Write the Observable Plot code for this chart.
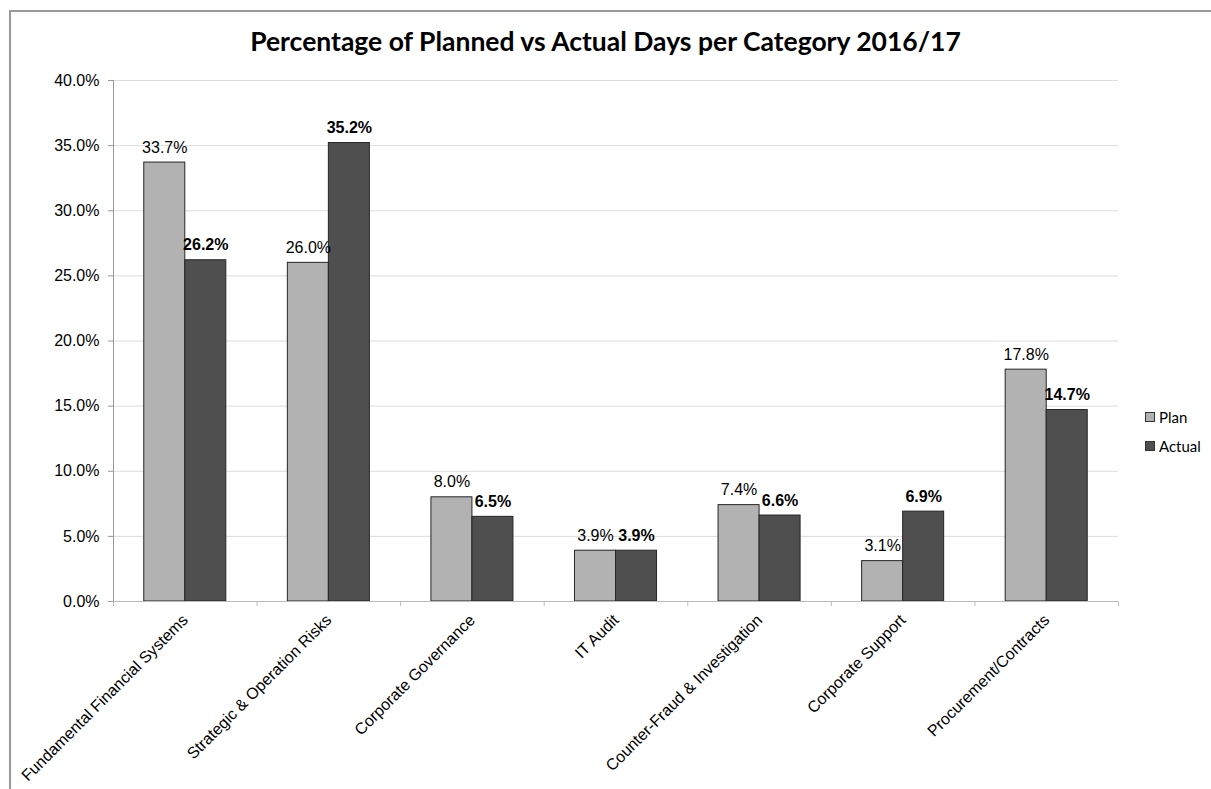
<!DOCTYPE html>
<html>
<head>
<meta charset="utf-8">
<script src="https://cdn.jsdelivr.net/npm/d3@7"></script>
<script src="https://cdn.jsdelivr.net/npm/@observablehq/plot@0.6"></script>
<style>
  body { margin: 0; background: #fff; }
  #wrap { position: relative; width: 1211px; height: 789px; overflow: hidden; background: #fff; font-family: "Liberation Sans", Arial, sans-serif; }
  #border { position: absolute; left: 9px; top: 10px; width: 1220px; height: 800px; border-top: 2px solid #999; border-left: 2px solid #999; }
  #title { position: absolute; left: 0; top: 25px; width: 1211px; text-align: center; font-family: Lato, "Open Sans", sans-serif; font-weight: bold; font-size: 26.5px; color: #000; }
  #chart { position: absolute; left: 0; top: 0; }
  .leg { position: absolute; left: 1145px; font-family: Lato, "Open Sans", sans-serif; font-size: 15px; color: #000; display: flex; align-items: center; }
  .sw { width: 8px; height: 8px; border: 1px solid #333; margin-right: 4px; }
</style>
</head>
<body>
<div id="wrap">
  <div id="border"></div>
  <div id="title"></div>
  <div id="chart"></div>
  <div id="legend"></div>
</div>
<script>
const chartTitle = "Percentage of Planned vs Actual Days per Category 2016/17";
const categories = [
  "Fundamental Financial Systems",
  "Strategic & Operation Risks",
  "Corporate Governance",
  "IT Audit",
  "Counter-Fraud & Investigation",
  "Corporate Support",
  "Procurement/Contracts"
];
const seriesNames = ["Plan", "Actual"];
const planValues   = [0.337, 0.260, 0.080, 0.039, 0.074, 0.031, 0.178];
const actualValues = [0.262, 0.352, 0.065, 0.039, 0.066, 0.069, 0.147];
const yTicks = [0, 0.05, 0.10, 0.15, 0.20, 0.25, 0.30, 0.35, 0.40];
const seriesColors = ["#b2b2b2", "#4f4f4f"];

// Excel-style clustered columns: gap width 150% of a bar width
const gapWidth = 1.5;
const barW = 1 / (seriesNames.length + gapWidth);
const startOff = gapWidth * barW / 2;

const rows = [];
categories.forEach((c, i) => {
  [planValues, actualValues].forEach((vals, s) => {
    rows.push({ i, category: c, series: seriesNames[s], s, value: vals[i],
      x1: i + startOff + s * barW, x2: i + startOff + (s + 1) * barW });
  });
});
const planRows = rows.filter(d => d.series === "Plan");
const actualRows = rows.filter(d => d.series === "Actual");
const pct = d3.format(".1%");

document.getElementById("title").textContent = chartTitle;

const plot = Plot.plot({
  width: 1211,
  height: 789,
  marginLeft: 113,
  marginRight: 93,
  marginTop: 80,
  marginBottom: 188,
  style: { fontFamily: "'Liberation Sans', Arial, sans-serif", fontSize: "16px", background: "transparent", overflow: "visible", color: "#000" },
  x: { domain: [0, categories.length], nice: false, axis: null },
  y: { domain: [0, 0.4], axis: null },
  color: { domain: seriesNames, range: seriesColors },
  marks: [
    Plot.gridY(yTicks.slice(1), { stroke: "#dcdcdc", strokeOpacity: 1 }),
    Plot.rect(rows, { x1: "x1", x2: "x2", y1: 0, y2: "value", fill: "series", stroke: "#262626", strokeWidth: 1 }),
    Plot.ruleX([0], { stroke: "#999" }),
    Plot.ruleY([0], { stroke: "#bbb" }),
    Plot.axisY({ ticks: yTicks, tickFormat: ".1%", tickSize: 5, tickPadding: 9, stroke: "#999", fill: "#000", fontSize: 16, label: null }),
    Plot.axisX({ ticks: d3.range(categories.length + 1), tickFormat: () => "", tickSize: 5, stroke: "#bbb", label: null }),
    Plot.axisX({ ticks: categories.map((c, i) => i + 0.5), tickFormat: d => categories[Math.floor(d)], tickRotate: -45, tickSize: 0, tickPadding: 16, fill: "#000", fontSize: 16, label: null }),
    Plot.text(planRows, { x: d => (d.x1 + d.x2) / 2, y: "value", text: d => pct(d.value), lineAnchor: "bottom", dy: -10, fontSize: 16, fill: "#000" }),
    Plot.text(actualRows, { x: d => (d.x1 + d.x2) / 2, y: "value", text: d => pct(d.value), lineAnchor: "bottom", dy: -10, fontSize: 16, fontWeight: "bold", fill: "#000" })
  ]
});
document.getElementById("chart").appendChild(plot);

const legend = document.getElementById("legend");
seriesNames.forEach((name, k) => {
  const div = document.createElement("div");
  div.className = "leg";
  div.style.top = (408 + k * 29) + "px";
  const sw = document.createElement("span");
  sw.className = "sw";
  sw.style.background = seriesColors[k];
  div.appendChild(sw);
  const t = document.createElement("span");
  t.textContent = name;
  div.appendChild(t);
  legend.appendChild(div);
});
</script>
</body>
</html>
